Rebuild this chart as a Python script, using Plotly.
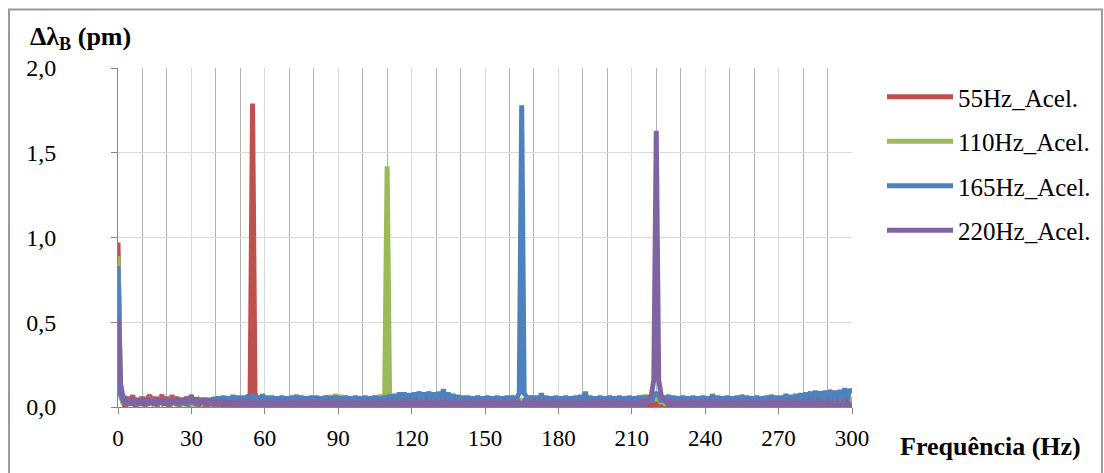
import plotly.graph_objects as go

# Frequency axis (Hz), 1 Hz steps
freq = list(range(0, 301))

# Δλ_B (pm)
acel_55 = [
    0.97, 0.09, 0.03, 0.00, 0.06, 0.01, 0.07, 0.00, 0.05, 0.02,
    0.06, 0.00, 0.05, 0.07, 0.01, 0.06, 0.00, 0.05, 0.07, 0.01,
    0.06, 0.00, 0.07, 0.02, 0.06, 0.00, 0.05, 0.01, 0.06, 0.00,
    0.05, 0.01, 0.04, 0.00, 0.04, 0.01, 0.03, 0.00, 0.04, 0.01,
    0.03, 0.00, 0.03, 0.00, 0.03, 0.01, 0.03, 0.00, 0.02, 0.01,
    0.03, 0.01, 0.03, 0.04, 0.08, 1.79, 0.08, 0.04, 0.03, 0.01,
    0.03, 0.00, 0.02, 0.01, 0.03, 0.00, 0.02, 0.01, 0.03, 0.00,
    0.02, 0.00, 0.03, 0.01, 0.02, 0.00, 0.03, 0.01, 0.02, 0.00,
    0.03, 0.01, 0.02, 0.00, 0.03, 0.01, 0.02, 0.00, 0.03, 0.01,
    0.02, 0.00, 0.03, 0.01, 0.02, 0.00, 0.03, 0.01, 0.02, 0.00,
    0.03, 0.01, 0.02, 0.00, 0.03, 0.01, 0.02, 0.00, 0.03, 0.01,
    0.02, 0.00, 0.03, 0.01, 0.02, 0.00, 0.03, 0.01, 0.02, 0.00,
    0.03, 0.01, 0.02, 0.00, 0.03, 0.01, 0.02, 0.00, 0.03, 0.01,
    0.02, 0.00, 0.03, 0.01, 0.02, 0.00, 0.03, 0.01, 0.02, 0.00,
    0.03, 0.01, 0.02, 0.00, 0.03, 0.01, 0.02, 0.00, 0.03, 0.01,
    0.02, 0.00, 0.03, 0.01, 0.02, 0.00, 0.03, 0.01, 0.02, 0.00,
    0.03, 0.01, 0.02, 0.00, 0.03, 0.01, 0.02, 0.00, 0.03, 0.01,
    0.02, 0.00, 0.03, 0.01, 0.02, 0.00, 0.03, 0.01, 0.02, 0.00,
    0.03, 0.01, 0.02, 0.00, 0.03, 0.01, 0.02, 0.00, 0.03, 0.01,
    0.02, 0.00, 0.03, 0.01, 0.02, 0.00, 0.03, 0.01, 0.02, 0.00,
    0.03, 0.01, 0.02, 0.00, 0.03, 0.01, 0.02, 0.00, 0.03, 0.01,
    0.02, 0.00, 0.03, 0.01, 0.02, 0.00, 0.03, 0.01, 0.02, 0.00,
    0.03, 0.01, 0.02, 0.00, 0.03, 0.01, 0.02, 0.00, 0.03, 0.01,
    0.02, 0.00, 0.03, 0.01, 0.02, 0.00, 0.03, 0.01, 0.02, 0.00,
    0.03, 0.01, 0.02, 0.00, 0.03, 0.01, 0.02, 0.00, 0.03, 0.01,
    0.02, 0.00, 0.03, 0.01, 0.02, 0.00, 0.03, 0.01, 0.02, 0.00,
    0.03, 0.01, 0.02, 0.00, 0.03, 0.01, 0.02, 0.00, 0.03, 0.01,
    0.02, 0.00, 0.03, 0.01, 0.02, 0.00, 0.03, 0.01, 0.02, 0.00,
    0.03, 0.01, 0.02, 0.00, 0.03, 0.01, 0.02, 0.00, 0.03, 0.01,
    0.02, 0.00, 0.03, 0.01, 0.02, 0.00, 0.03, 0.01, 0.02, 0.00,
    0.02,
]

acel_110 = [
    0.89, 0.08, 0.02, 0.05, 0.01, 0.05, 0.02, 0.05, 0.01, 0.04,
    0.02, 0.05, 0.01, 0.04, 0.02, 0.05, 0.01, 0.04, 0.02, 0.05,
    0.01, 0.04, 0.02, 0.05, 0.01, 0.04, 0.02, 0.05, 0.01, 0.04,
    0.02, 0.05, 0.01, 0.04, 0.02, 0.05, 0.01, 0.05, 0.02, 0.04,
    0.01, 0.05, 0.02, 0.04, 0.01, 0.05, 0.02, 0.05, 0.01, 0.04,
    0.02, 0.05, 0.01, 0.04, 0.02, 0.05, 0.01, 0.04, 0.02, 0.05,
    0.01, 0.04, 0.02, 0.05, 0.01, 0.05, 0.02, 0.04, 0.01, 0.05,
    0.02, 0.05, 0.01, 0.04, 0.02, 0.05, 0.01, 0.05, 0.02, 0.05,
    0.01, 0.05, 0.02, 0.06, 0.02, 0.065, 0.02, 0.07, 0.03, 0.075,
    0.02, 0.07, 0.03, 0.065, 0.02, 0.05, 0.01, 0.05, 0.02, 0.05,
    0.01, 0.05, 0.02, 0.06, 0.02, 0.065, 0.03, 0.07, 0.04, 0.07,
    1.42, 0.07, 0.04, 0.065, 0.02, 0.05, 0.01, 0.05, 0.02, 0.05,
    0.02, 0.05, 0.01, 0.04, 0.02, 0.05, 0.01, 0.05, 0.02, 0.04,
    0.01, 0.05, 0.02, 0.04, 0.01, 0.05, 0.02, 0.05, 0.01, 0.04,
    0.02, 0.05, 0.01, 0.04, 0.02, 0.05, 0.01, 0.04, 0.02, 0.05,
    0.01, 0.04, 0.02, 0.05, 0.01, 0.05, 0.02, 0.04, 0.01, 0.05,
    0.02, 0.05, 0.01, 0.04, 0.02, 0.05, 0.01, 0.05, 0.02, 0.05,
    0.01, 0.05, 0.02, 0.04, 0.01, 0.05, 0.02, 0.05, 0.01, 0.04,
    0.02, 0.05, 0.01, 0.04, 0.02, 0.05, 0.01, 0.04, 0.02, 0.05,
    0.01, 0.04, 0.02, 0.05, 0.01, 0.05, 0.02, 0.04, 0.01, 0.05,
    0.02, 0.05, 0.01, 0.04, 0.02, 0.05, 0.01, 0.05, 0.02, 0.05,
    0.02, 0.05, 0.02, 0.065, 0.03, 0.07, 0.03, 0.07, 0.04, 0.07,
    0.04, 0.065, 0.02, 0.05, 0.01, 0.05, 0.02, 0.04, 0.01, 0.05,
    0.02, 0.05, 0.01, 0.04, 0.02, 0.05, 0.01, 0.05, 0.02, 0.05,
    0.01, 0.05, 0.02, 0.04, 0.01, 0.05, 0.02, 0.05, 0.01, 0.04,
    0.02, 0.05, 0.01, 0.04, 0.02, 0.05, 0.01, 0.04, 0.02, 0.05,
    0.01, 0.04, 0.02, 0.05, 0.01, 0.05, 0.02, 0.04, 0.01, 0.05,
    0.02, 0.05, 0.01, 0.04, 0.02, 0.05, 0.01, 0.05, 0.02, 0.05,
    0.01, 0.05, 0.02, 0.04, 0.01, 0.05, 0.02, 0.05, 0.01, 0.04,
    0.02, 0.05, 0.01, 0.04, 0.02, 0.05, 0.01, 0.04, 0.02, 0.05,
    0.03,
]

acel_165 = [
    0.83, 0.07, 0.04, 0.05, 0.02, 0.05, 0.02, 0.05, 0.01, 0.05,
    0.02, 0.05, 0.01, 0.05, 0.02, 0.05, 0.01, 0.05, 0.02, 0.05,
    0.01, 0.05, 0.02, 0.05, 0.01, 0.05, 0.02, 0.05, 0.01, 0.05,
    0.02, 0.05, 0.01, 0.05, 0.02, 0.05, 0.01, 0.05, 0.02, 0.055,
    0.02, 0.06, 0.025, 0.065, 0.02, 0.06, 0.025, 0.07, 0.02, 0.065,
    0.025, 0.065, 0.02, 0.07, 0.025, 0.075, 0.03, 0.065, 0.02, 0.075,
    0.025, 0.065, 0.02, 0.065, 0.025, 0.06, 0.02, 0.065, 0.025, 0.06,
    0.02, 0.065, 0.025, 0.07, 0.02, 0.065, 0.025, 0.06, 0.02, 0.065,
    0.025, 0.065, 0.02, 0.06, 0.025, 0.065, 0.02, 0.06, 0.025, 0.065,
    0.02, 0.06, 0.025, 0.065, 0.02, 0.06, 0.025, 0.065, 0.02, 0.06,
    0.025, 0.065, 0.02, 0.06, 0.025, 0.065, 0.02, 0.06, 0.025, 0.065,
    0.025, 0.07, 0.03, 0.075, 0.03, 0.085, 0.035, 0.085, 0.03, 0.08,
    0.035, 0.085, 0.03, 0.09, 0.035, 0.085, 0.03, 0.09, 0.035, 0.085,
    0.03, 0.09, 0.04, 0.105, 0.035, 0.085, 0.03, 0.075, 0.025, 0.07,
    0.025, 0.065, 0.02, 0.065, 0.025, 0.06, 0.02, 0.065, 0.025, 0.06,
    0.02, 0.065, 0.025, 0.06, 0.02, 0.065, 0.025, 0.06, 0.02, 0.065,
    0.025, 0.065, 0.03, 0.06, 0.08, 1.78, 0.08, 0.06, 0.03, 0.065,
    0.025, 0.065, 0.02, 0.08, 0.025, 0.065, 0.02, 0.06, 0.025, 0.065,
    0.02, 0.06, 0.025, 0.065, 0.02, 0.06, 0.025, 0.065, 0.02, 0.07,
    0.03, 0.09, 0.03, 0.065, 0.025, 0.06, 0.02, 0.065, 0.025, 0.06,
    0.02, 0.065, 0.025, 0.06, 0.02, 0.065, 0.025, 0.06, 0.02, 0.065,
    0.025, 0.06, 0.02, 0.065, 0.025, 0.065, 0.02, 0.065, 0.03, 0.07,
    0.08, 0.07, 0.03, 0.065, 0.025, 0.07, 0.02, 0.065, 0.025, 0.06,
    0.02, 0.065, 0.025, 0.06, 0.02, 0.065, 0.025, 0.06, 0.02, 0.065,
    0.025, 0.06, 0.02, 0.075, 0.025, 0.065, 0.02, 0.06, 0.025, 0.065,
    0.02, 0.06, 0.025, 0.065, 0.02, 0.07, 0.025, 0.065, 0.02, 0.06,
    0.025, 0.065, 0.02, 0.06, 0.025, 0.065, 0.02, 0.07, 0.025, 0.065,
    0.02, 0.065, 0.025, 0.075, 0.025, 0.07, 0.025, 0.075, 0.03, 0.08,
    0.03, 0.085, 0.035, 0.09, 0.03, 0.095, 0.04, 0.09, 0.035, 0.095,
    0.04, 0.10, 0.035, 0.095, 0.04, 0.10, 0.04, 0.11, 0.04, 0.105,
    0.08,
]

acel_220 = [
    0.52, 0.14, 0.06, 0.01, 0.05, 0.01, 0.055, 0.02, 0.05, 0.01,
    0.05, 0.01, 0.055, 0.02, 0.05, 0.01, 0.055, 0.02, 0.05, 0.01,
    0.055, 0.01, 0.05, 0.02, 0.055, 0.01, 0.05, 0.02, 0.055, 0.03,
    0.07, 0.02, 0.055, 0.01, 0.05, 0.02, 0.05, 0.01, 0.045, 0.01,
    0.045, 0.01, 0.04, 0.005, 0.04, 0.01, 0.035, 0.005, 0.035, 0.005,
    0.03, 0.005, 0.025, 0.005, 0.03, 0.005, 0.025, 0.005, 0.03, 0.005,
    0.025, 0.005, 0.03, 0.005, 0.025, 0.005, 0.03, 0.005, 0.025, 0.005,
    0.03, 0.005, 0.025, 0.005, 0.03, 0.005, 0.025, 0.005, 0.03, 0.005,
    0.025, 0.005, 0.03, 0.005, 0.025, 0.005, 0.03, 0.005, 0.025, 0.005,
    0.03, 0.005, 0.025, 0.005, 0.03, 0.005, 0.025, 0.005, 0.03, 0.005,
    0.025, 0.005, 0.03, 0.005, 0.025, 0.005, 0.03, 0.005, 0.025, 0.005,
    0.03, 0.005, 0.025, 0.005, 0.03, 0.005, 0.025, 0.005, 0.03, 0.005,
    0.025, 0.005, 0.03, 0.005, 0.025, 0.005, 0.03, 0.005, 0.025, 0.005,
    0.03, 0.005, 0.025, 0.005, 0.03, 0.005, 0.025, 0.005, 0.03, 0.005,
    0.025, 0.005, 0.03, 0.005, 0.025, 0.005, 0.03, 0.005, 0.025, 0.005,
    0.03, 0.005, 0.025, 0.005, 0.03, 0.005, 0.025, 0.005, 0.03, 0.005,
    0.025, 0.005, 0.03, 0.005, 0.025, 0.005, 0.03, 0.005, 0.025, 0.005,
    0.03, 0.005, 0.025, 0.005, 0.03, 0.005, 0.025, 0.005, 0.03, 0.005,
    0.025, 0.005, 0.03, 0.005, 0.025, 0.005, 0.03, 0.005, 0.025, 0.005,
    0.03, 0.005, 0.025, 0.005, 0.03, 0.005, 0.025, 0.005, 0.03, 0.005,
    0.025, 0.005, 0.03, 0.005, 0.025, 0.005, 0.03, 0.005, 0.025, 0.005,
    0.03, 0.005, 0.025, 0.005, 0.03, 0.01, 0.035, 0.045, 0.07, 0.16,
    1.63, 0.16, 0.07, 0.045, 0.035, 0.01, 0.03, 0.005, 0.025, 0.005,
    0.03, 0.005, 0.025, 0.005, 0.03, 0.005, 0.025, 0.005, 0.03, 0.005,
    0.025, 0.005, 0.03, 0.005, 0.025, 0.005, 0.03, 0.005, 0.025, 0.005,
    0.03, 0.005, 0.025, 0.005, 0.03, 0.005, 0.025, 0.005, 0.03, 0.005,
    0.025, 0.005, 0.03, 0.005, 0.025, 0.005, 0.03, 0.005, 0.025, 0.005,
    0.03, 0.005, 0.025, 0.005, 0.03, 0.005, 0.025, 0.005, 0.03, 0.005,
    0.025, 0.005, 0.03, 0.005, 0.025, 0.005, 0.03, 0.005, 0.025, 0.005,
    0.03, 0.005, 0.025, 0.005, 0.03, 0.005, 0.025, 0.005, 0.03, 0.005,
    0.025,
]

series_names = ["55Hz_Acel.", "110Hz_Acel.", "165Hz_Acel.", "220Hz_Acel."]
series_values = [acel_55, acel_110, acel_165, acel_220]
series_colors = ["#C0504D", "#9BBB59", "#4F81BD", "#8064A2"]

x_tick_vals = [0, 30, 60, 90, 120, 150, 180, 210, 240, 270, 300]
y_tick_vals = [0.0, 0.5, 1.0, 1.5, 2.0]

FONT = "Liberation Serif"

fig = go.Figure()
for i, (name, vals, col) in enumerate(zip(series_names, series_values, series_colors)):
    fig.add_trace(go.Scatter(
        x=freq, y=vals, mode="lines", name=name,
        legendgroup=f"g{i}",
        line=dict(color=col, width=5),
        hoverinfo="skip",
    ))

L, R, T, B = 118, 252, 68, 66
W, H = 1104, 473
pw, ph = W - L - R, H - T - B

def px_x(v):
    return (v - L) / pw

def px_y(v):
    return (H - B - v) / ph

fig.update_layout(
    width=W, height=H,
    margin=dict(l=L, r=R, t=T, b=B, pad=0, autoexpand=False),
    paper_bgcolor="white", plot_bgcolor="white",
    separators=",.",
    font=dict(family=FONT, size=22, color="black"),
    showlegend=True,
    legend=dict(
        x=px_x(882), y=px_y(74), xanchor="left", yanchor="top",
        font=dict(family=FONT, size=25, color="black"),
        itemwidth=66, tracegroupgap=9,
        bgcolor="rgba(0,0,0,0)",
    ),
    xaxis=dict(
        range=[0, 300], tickmode="array", tickvals=x_tick_vals,
        ticks="outside", ticklen=6, tickcolor="#868686", tickwidth=1,
        showline=True, linecolor="#868686", linewidth=1,
        showgrid=True, gridcolor="#D9D9D9", gridwidth=1,
        minor=dict(dtick=10, tick0=0, showgrid=True, gridcolor="#B3B3B3", gridwidth=1, ticks=""),
        zeroline=False, ticklabelstandoff=4,
        tickfont=dict(family=FONT, size=23),
    ),
    yaxis=dict(
        range=[0, 2], tickmode="array", tickvals=y_tick_vals, tickformat=".1f",
        ticks="outside", ticklen=6, tickcolor="#868686", tickwidth=1,
        showline=True, linecolor="#868686", linewidth=1,
        showgrid=True, gridcolor="#D9D9D9", gridwidth=1,
        zeroline=False, ticklabelstandoff=50,
        tickfont=dict(family=FONT, size=24),
    ),
    annotations=[
        dict(text="<b>Δλ<sub>B</sub> (pm)</b>", xref="paper", yref="paper",
             x=px_x(28), y=px_y(38), xanchor="left", yanchor="middle",
             showarrow=False, font=dict(family=FONT, size=26, color="black")),
        dict(text="<b>Frequência (Hz)</b>", xref="paper", yref="paper",
             x=px_x(898), y=px_y(447), xanchor="left", yanchor="middle",
             showarrow=False, font=dict(family=FONT, size=26, color="black")),
    ],
    shapes=[
        dict(type="rect", xref="paper", yref="paper",
             x0=px_x(9), x1=px_x(1102), y0=px_y(490), y1=px_y(9.5),
             line=dict(color="#9A9A9A", width=2), fillcolor="rgba(0,0,0,0)",
             layer="below"),
    ],
)

fig.write_html("out.html")
